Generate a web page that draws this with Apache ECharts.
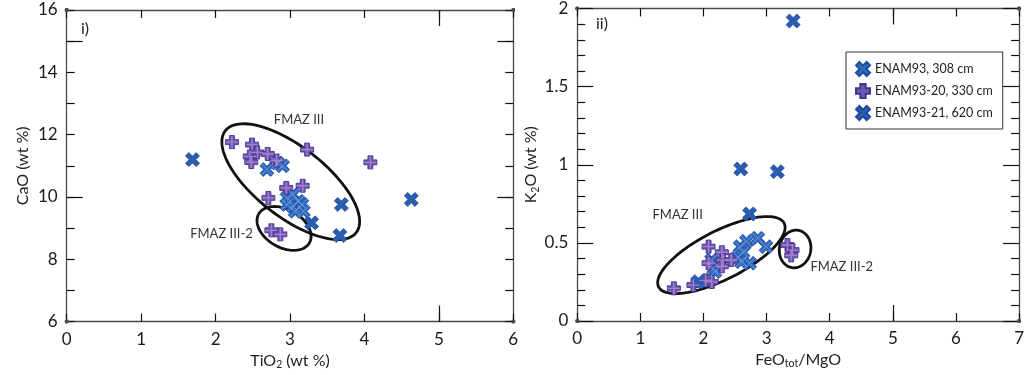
<!DOCTYPE html>
<html>
<head>
<meta charset="utf-8">
<script src="https://cdn.jsdelivr.net/npm/echarts@6/dist/echarts.min.js"></script>
<style>
  html, body { margin: 0; padding: 0; background: #fff; }
  #chart { width: 1027px; height: 375px; }
</style>
</head>
<body>
<div id="chart"></div>
<script>
// ---- data: panel i) TiO2 vs CaO, panel ii) FeOtot/MgO vs K2O ----
const seriesNames = ['ENAM93, 308 cm', 'ENAM93-20, 330 cm', 'ENAM93-21, 620 cm'];

// panel i) [TiO2, CaO]
const caoTi_308 = [
  [2.69, 10.88], [2.83, 11.09], [2.90, 11.00], [2.96, 9.97], [3.04, 10.08],
  [3.11, 9.86], [2.96, 9.76], [3.04, 9.70], [3.16, 9.76], [3.07, 9.54], [3.18, 9.54]
];
const caoTi_330 = [
  [2.22, 11.76], [2.49, 11.68], [2.56, 11.43], [2.46, 11.30], [2.48, 11.12],
  [2.70, 11.38], [2.82, 11.17], [3.23, 11.52], [2.95, 10.29], [3.17, 10.36],
  [2.71, 9.97], [2.75, 8.93], [2.87, 8.80], [4.08, 11.11]
];
const caoTi_620 = [
  [1.69, 11.20], [3.29, 9.17], [3.69, 9.76], [3.67, 8.76], [4.63, 9.92]
];

// panel ii) [FeOtot/MgO, K2O]
const k2oFe_308 = [
  [2.13, 0.39], [2.16, 0.337], [2.18, 0.316], [2.58, 0.476], [2.63, 0.44],
  [2.55, 0.41], [2.68, 0.51], [2.73, 0.37], [2.60, 0.38], [2.86, 0.53], [2.99, 0.476]
];
const k2oFe_330 = [
  [1.53, 0.209], [1.84, 0.23], [2.13, 0.25], [2.03, 0.26], [2.08, 0.476],
  [2.08, 0.37], [2.29, 0.44], [2.31, 0.39], [2.44, 0.39], [2.29, 0.35],
  [3.33, 0.486], [3.41, 0.454], [3.39, 0.42]
];
const k2oFe_620 = [
  [3.42, 1.92], [2.59, 0.973], [3.17, 0.956], [2.73, 0.685], [1.92, 0.252]
];

// group outlines: [centreX, centreY, r1x, r1y, r2x, r2y] (conjugate radii, data units)
const groupsTi = [
  [3.01, 10.49, 0.879, -1.636, -0.290, -0.884],
  [2.92, 8.99, 0.340, -0.467, -0.128, -0.527]
];
const groupsFe = [
  [2.283, 0.422, 0.995, 0.2035, 0.171, -0.139],
  [3.451, 0.461, 0.243, -0.0224, 0.0627, 0.1184]
];
// group names: [x, y, text]
const groupLabelsTi = [[3.12, 12.48, 'FMAZ III'], [2.08, 8.83, 'FMAZ III-2']];
const groupLabelsFe = [[1.59, 0.678, 'FMAZ III'], [4.19, 0.346, 'FMAZ III-2']];

// axis ticks
const tiTicks = [0, 1, 2, 3, 4, 5, 6];
const caoTicks = [6, 8, 10, 12, 14, 16];
const feTicks = [0, 1, 2, 3, 4, 5, 6, 7];
const k2oTicks = [0, 0.5, 1, 1.5, 2];

// ---- styling ----
const FONT = 'Lato, "Liberation Sans", sans-serif';
const LINE = '#4a4a4a';
const SYM_X = 'path://M0 24L24 0L50 26L76 0L100 24L74 50L100 76L76 100L50 74L24 100L0 76L26 50Z';
const SYM_X_THIN = 'path://M12 16L16 12L50 46L84 12L88 16L54 50L88 84L84 88L50 54L16 88L12 84L46 50Z';
const SYM_PLUS = 'path://M31 0H69V31H100V69H69V100H31V69H0V31H31Z';
const SYM_PLUS_THIN = 'path://M46 14H54V46H86V54H54V86H46V54H14V46H46Z';

function axisBase(min, max, interval, pos, gridIndex, tickLen, showLabel, labelVals) {
  return {
    type: 'value', gridIndex: gridIndex, position: pos,
    min: min, max: max, interval: interval,
    splitLine: { show: false },
    axisLine: { show: true, onZero: false, lineStyle: { color: LINE, width: 1.3 },
      symbol: ['circle', 'circle'], symbolSize: [4, 4] },
    axisTick: { show: true, inside: true, length: tickLen, lineStyle: { color: '#111', width: 1.2 } },
    axisLabel: {
      show: showLabel, color: '#1a1a1a', fontSize: 17, fontFamily: FONT, margin: 9,
      formatter: function (v) {
        return labelVals.some(function (t) { return Math.abs(t - v) < 1e-6; }) ? String(v) : '';
      }
    }
  };
}
function longTicks(min, max, pos, gridIndex, vals) {
  return {
    type: 'value', gridIndex: gridIndex, position: pos, min: min, max: max,
    splitLine: { show: false },
    axisLine: { show: false, onZero: false },
    axisLabel: { show: false },
    axisTick: { show: true, inside: true, length: 16, customValues: vals,
      lineStyle: { color: '#111', width: 1.2 } }
  };
}

function ellipseSeries(data, labels, xi, yi) {
  return [{
    type: 'custom', xAxisIndex: xi, yAxisIndex: yi, z: 1, silent: true,
    data: data,
    renderItem: function (params, api) {
      const cx = api.value(0), cy = api.value(1);
      const ux = api.value(2), uy = api.value(3), vx = api.value(4), vy = api.value(5);
      const pts = [];
      for (let i = 0; i <= 96; i++) {
        const t = i / 96 * Math.PI * 2;
        pts.push(api.coord([cx + ux * Math.cos(t) + vx * Math.sin(t),
                            cy + uy * Math.cos(t) + vy * Math.sin(t)]));
      }
      return { type: 'polygon', shape: { points: pts },
        style: { fill: 'none', stroke: '#111', lineWidth: 2.8 } };
    }
  }, {
    type: 'custom', xAxisIndex: xi, yAxisIndex: yi, z: 1, silent: true,
    data: labels,
    renderItem: function (params, api) {
      const p = api.coord([api.value(0), api.value(1)]);
      return { type: 'text', x: p[0], y: p[1],
        style: { text: labels[params.dataIndex][2], fill: '#333', font: '13px ' + FONT,
          align: 'center', verticalAlign: 'middle' } };
    }
  }];
}

function pointSeries(d308, d330, d620, xi, yi) {
  return [
    { name: seriesNames[0], type: 'scatter', xAxisIndex: xi, yAxisIndex: yi, z: 3,
      data: d308, symbol: SYM_X, symbolSize: 14,
      itemStyle: { color: '#2f67bd', borderColor: '#1f4e9c', borderWidth: 0.8, opacity: 1 } },
    { name: 'hl308', type: 'scatter', xAxisIndex: xi, yAxisIndex: yi, z: 4, silent: true,
      data: d308, symbol: SYM_X_THIN, symbolSize: 12,
      itemStyle: { color: '#6f9fe2', opacity: 0.75 } },
    { name: seriesNames[1], type: 'scatter', xAxisIndex: xi, yAxisIndex: yi, z: 3,
      data: d330, symbol: SYM_PLUS, symbolSize: 13,
      itemStyle: { color: '#7257b2', borderColor: '#3f3490', borderWidth: 0.9, opacity: 1 } },
    { name: 'hl330', type: 'scatter', xAxisIndex: xi, yAxisIndex: yi, z: 4, silent: true,
      data: d330, symbol: SYM_PLUS_THIN, symbolSize: 12,
      itemStyle: { color: '#b48cd6', opacity: 0.8 } },
    { name: seriesNames[2], type: 'scatter', xAxisIndex: xi, yAxisIndex: yi, z: 3,
      data: d620, symbol: SYM_X, symbolSize: 14,
      itemStyle: { color: '#2a5cb2', borderColor: '#1d4a98', borderWidth: 0.8, opacity: 1 } }
  ];
}

const nameStyle = {
  color: '#222', fontSize: 16, fontFamily: FONT,
  rich: { sub: { fontSize: 10.5, verticalAlign: 'bottom', padding: [8, 0, 0, 0], fontFamily: FONT, color: '#222' } }
};

const option = {
  backgroundColor: '#fff',
  animation: false,
  grid: [
    { left: 66.7, right: 513.7, top: 10, bottom: 52.7 },
    { left: 577.3, right: 3, top: 8.5, bottom: 54 }
  ],
  legend: {
    data: seriesNames, orient: 'vertical', left: 846, top: 52,
    padding: [9, 10, 8, 9], itemGap: 6, itemWidth: 14, itemHeight: 14,
    borderColor: '#333', borderWidth: 1, borderRadius: 0,
    textStyle: { fontSize: 12.5, fontFamily: FONT, color: '#222' }
  },
  xAxis: [
    Object.assign(axisBase(0, 6, 1, 'bottom', 0, 8, true, tiTicks), {
      name: 'TiO{sub|2} (wt %)', nameLocation: 'middle', nameGap: 27, nameTextStyle: nameStyle }),
    axisBase(0, 6, 1, 'top', 0, 8, false, tiTicks),
    longTicks(0, 6, 'bottom', 0, [5]),
    longTicks(0, 6, 'top', 0, [5]),
    Object.assign(axisBase(0, 7, 1, 'bottom', 1, 8, true, feTicks), {
      name: 'FeO{sub|tot}/MgO', nameLocation: 'middle', nameGap: 27, nameTextStyle: nameStyle }),
    axisBase(0, 7, 1, 'top', 1, 8, false, feTicks),
    longTicks(0, 7, 'bottom', 1, [5]),
    longTicks(0, 7, 'top', 1, [5])
  ],
  yAxis: [
    Object.assign(axisBase(6, 16, 1, 'left', 0, 8, true, caoTicks), {
      name: 'CaO (wt %)', nameLocation: 'middle', nameGap: 36, nameTextStyle: nameStyle }),
    axisBase(6, 16, 1, 'right', 0, 8, false, caoTicks),
    longTicks(6, 16, 'left', 0, [10, 15]),
    longTicks(6, 16, 'right', 0, [10, 15]),
    Object.assign(axisBase(0, 2, 0.5, 'left', 1, 16, true, k2oTicks), {
      minorTick: { show: true, splitNumber: 5, length: 8, lineStyle: { color: '#111', width: 1.2 } },
      name: 'K{sub|2}O (wt %)', nameLocation: 'middle', nameGap: 32, nameTextStyle: nameStyle }),
    Object.assign(axisBase(0, 2, 0.5, 'right', 1, 16, false, k2oTicks), {
      minorTick: { show: true, splitNumber: 5, length: 8, lineStyle: { color: '#111', width: 1.2 } } })
  ],
  graphic: [
    { type: 'text', left: 81, top: 21, style: { text: 'i)', font: '16px ' + FONT, fill: '#222' } },
    { type: 'text', left: 596, top: 16, style: { text: 'ii)', font: '16px ' + FONT, fill: '#222' } }
  ],
  series: [].concat(
    ellipseSeries(groupsTi, groupLabelsTi, 0, 0),
    ellipseSeries(groupsFe, groupLabelsFe, 4, 4),
    pointSeries(caoTi_308, caoTi_330, caoTi_620, 0, 0),
    pointSeries(k2oFe_308, k2oFe_330, k2oFe_620, 4, 4)
  )
};

const chart = echarts.init(document.getElementById('chart'), null, { renderer: 'canvas' });
chart.setOption(option);
</script>
</body>
</html>
